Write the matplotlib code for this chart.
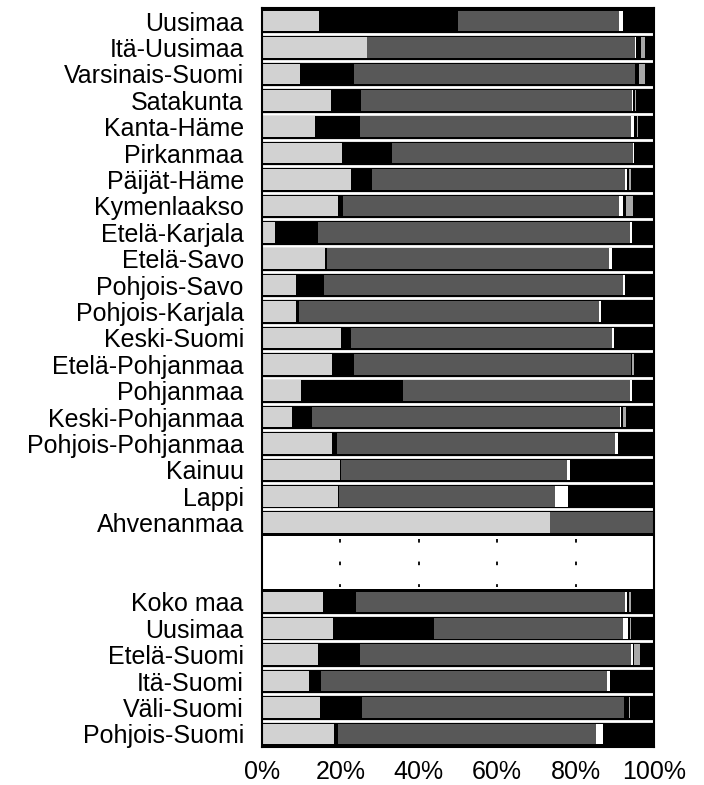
import matplotlib
matplotlib.use("Agg")
import matplotlib.pyplot as plt

plt.rcParams['font.family'] = ['Liberation Sans', 'DejaVu Sans']

regions = ['Uusimaa', 'Itä-Uusimaa', 'Varsinais-Suomi', 'Satakunta', 'Kanta-Häme',
           'Pirkanmaa', 'Päijät-Häme', 'Kymenlaakso', 'Etelä-Karjala', 'Etelä-Savo',
           'Pohjois-Savo', 'Pohjois-Karjala', 'Keski-Suomi', 'Etelä-Pohjanmaa',
           'Pohjanmaa', 'Keski-Pohjanmaa', 'Pohjois-Pohjanmaa', 'Kainuu', 'Lappi',
           'Ahvenanmaa', '', '',
           'Koko maa', 'Uusimaa', 'Etelä-Suomi', 'Itä-Suomi', 'Väli-Suomi', 'Pohjois-Suomi']

# shares (%) per segment, left to right; None = empty row
light  = [14.6, 26.9, 9.8, 17.7, 13.6, 20.4, 22.7, 19.3, 3.4, 16.0, 8.8, 8.8, 20.1, 18.0,
          9.9, 7.8, 17.8, 19.8, 19.3, 73.5, None, None, 15.5, 18.1, 14.4, 11.9, 14.7, 18.3]
black1 = [35.4, 0.0, 13.7, 7.6, 11.5, 12.7, 5.3, 1.3, 11.0, 0.6, 7.1, 0.6, 2.6, 5.6,
          26.2, 5.1, 1.3, 0.4, 0.4, 0.0, None, None, 8.5, 25.7, 10.7, 3.1, 10.8, 1.1]
dark   = [41.1, 68.3, 71.7, 69.0, 69.0, 61.6, 64.6, 70.5, 79.4, 71.8, 76.3, 76.6, 66.5, 70.5,
          57.9, 78.3, 71.0, 57.6, 55.0, 26.3, None, None, 68.5, 48.3, 69.0, 73.1, 66.9, 65.8]
white  = [1.1, 0.3, 0.0, 0.3, 0.7, 0.2, 0.5, 1.0, 0.6, 0.9, 0.4, 0.6, 0.5, 0.0,
          0.5, 0.4, 0.8, 0.8, 3.3, 0.0, None, None, 0.7, 1.2, 0.5, 0.7, 0.0, 1.7]
black2 = [0.0, 1.2, 1.0, 0.6, 0.8, 0.0, 0.6, 0.8, 0.0, 0.0, 0.0, 0.0, 0.0, 0.4,
          0.0, 0.5, 0.0, 0.0, 0.0, 0.0, None, None, 0.4, 0.5, 0.4, 0.0, 1.2, 0.0]
hatch  = [0.0, 1.0, 1.5, 0.3, 0.3, 0.0, 0.5, 1.7, 0.0, 0.0, 0.0, 0.0, 0.0, 0.5,
          0.0, 0.8, 0.0, 0.0, 0.0, 0.0, None, None, 0.5, 0.4, 1.3, 0.0, 0.3, 0.0]
black3 = [7.8, 2.3, 2.3, 4.5, 4.1, 5.1, 5.8, 5.4, 5.6, 10.7, 7.4, 13.4, 10.3, 5.0,
          5.5, 7.1, 9.1, 21.4, 22.0, 0.2, None, None, 5.9, 5.8, 3.7, 11.2, 6.1, 13.1]

series = [light, black1, dark, white, black2, hatch, black3]
colors = ['#d2d2d2', 'black', '#585858', 'white', 'black', '#a8a8a8', 'black']

fig = plt.figure(figsize=(7.04, 7.85), dpi=100)
ax = fig.add_axes([0.372, 0.0484, 0.557, 0.9414])

ypos = list(range(len(regions)))
data_rows = [i for i in ypos if light[i] is not None]

# black background per row, then the segments inset
for i in data_rows:
    ax.barh(i, 100, height=1.0, left=0, color='black', linewidth=0)
    left = 0
    for vals, col in zip(series, colors):
        v = vals[i]
        if v > 0:
            ax.barh(i, v, height=0.78, left=left, color=col, linewidth=0)
        left += v

# white separators between neighbouring rows
for i in data_rows:
    if i + 1 in data_rows:
        ax.hlines(i + 0.5, 0, 100, color='white', lw=2)

# dashed grid in the empty rows
blank = [i for i in ypos if light[i] is None]
ax.vlines([20, 40, 60, 80], min(blank) - 0.4, max(blank) + 0.45,
          color='black', lw=1.3, linestyles=(0, (2, 10.5)))

ax.set_xlim(0, 100)
ax.set_ylim(len(regions) - 0.5, -0.5)
ax.set_yticks(ypos)
ax.set_yticklabels(regions, fontsize=18)
ax.set_xticks([0, 20, 40, 60, 80, 100])
ax.set_xticklabels(['0%', '20%', '40%', '60%', '80%', '100%'], fontsize=18)
ax.tick_params(axis='y', length=0, pad=13)
ax.tick_params(axis='x', length=0, pad=9)
for s in ax.spines.values():
    s.set_linewidth(1.5)

fig.savefig('out.png', dpi=100)
